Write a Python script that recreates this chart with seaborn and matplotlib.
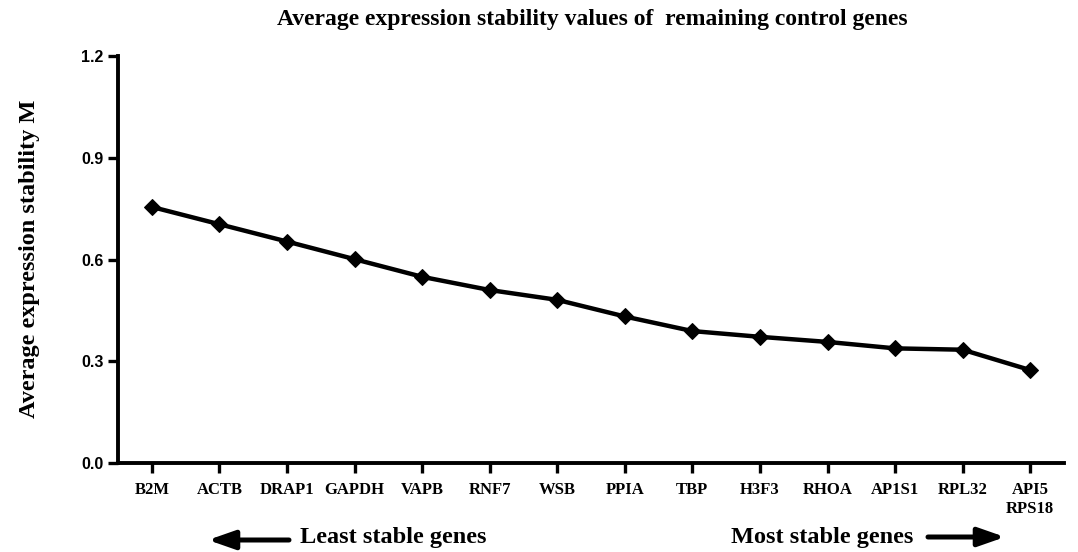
import matplotlib
matplotlib.use("Agg")
import matplotlib.pyplot as plt
from matplotlib.patches import FancyArrowPatch
import seaborn as sns
import numpy as np

genes = ["B2M", "ACTB", "DRAP1", "GAPDH", "VAPB", "RNF7", "WSB", "PPIA",
         "TBP", "H3F3", "RHOA", "AP1S1", "RPL32", "API5\nRPS18"]
m_values = [0.755, 0.704, 0.653, 0.601, 0.549, 0.510, 0.481, 0.432,
            0.389, 0.372, 0.357, 0.338, 0.334, 0.274]
y_ticks = [0.0, 0.3, 0.6, 0.9, 1.2]

sns.set_style("ticks")
for k in ["text.color", "axes.labelcolor", "xtick.color", "ytick.color", "axes.edgecolor"]:
    plt.rcParams[k] = "black"
serif = "Liberation Serif"
sans = "Liberation Sans"

fig = plt.figure(figsize=(10.78, 5.52), dpi=100)
ax = fig.add_axes([118/1078, 1-463/552, (1064-118)/1078, (463-56)/552])

xpos = np.arange(len(genes))
sns.lineplot(x=xpos, y=m_values, ax=ax, color="black", linewidth=3.2,
             marker="D", markersize=8, markeredgecolor="black", markerfacecolor="black")

ax.set_xlim(-0.5, len(genes) - 0.5)
ax.set_ylim(0, 1.2)
ax.set_yticks(y_ticks)
ax.set_yticklabels([f"{t:.1f}" for t in y_ticks], fontfamily=sans, fontweight="bold", fontsize=11.5)
ax.set_xticks(xpos)
ax.set_xticklabels(genes, fontfamily=serif, fontweight="bold", fontsize=12, linespacing=1.3)

for s in ["top", "right"]:
    ax.spines[s].set_visible(False)
for s in ["left", "bottom"]:
    ax.spines[s].set_linewidth(2.8)
ax.tick_params(axis="both", direction="out", length=7.5, width=2.4, color="black", pad=3)
ax.tick_params(axis="x", pad=6)

fig.text(30/1078, 1-259/552, "Average expression stability M", rotation=90,
         ha="center", va="center", fontfamily=serif, fontweight="bold", fontsize=17.5)
fig.text(592/1078, 1-20/552, "Average expression stability values of  remaining control genes",
         ha="center", va="center", fontfamily=serif, fontweight="bold", fontsize=17)

# bottom annotations
fig.text(300/1078, 1-538/552, "Least stable genes", ha="left", va="center",
         fontfamily=serif, fontweight="bold", fontsize=17.5)
fig.text(913/1078, 1-538/552, "Most stable genes", ha="right", va="center",
         fontfamily=serif, fontweight="bold", fontsize=17.5)
arrowprops = dict(arrowstyle="-|>,head_length=0.8,head_width=0.28", color="black", lw=3.6,
                  shrinkA=0, shrinkB=0, mutation_scale=20)
fig.add_artist(FancyArrowPatch((289/1078, 1-540/552), (208/1078, 1-540/552),
               transform=fig.transFigure, **arrowprops))
fig.add_artist(FancyArrowPatch((928/1078, 1-537/552), (1005/1078, 1-537/552),
               transform=fig.transFigure, **arrowprops))

fig.savefig("out.png", dpi=100)
